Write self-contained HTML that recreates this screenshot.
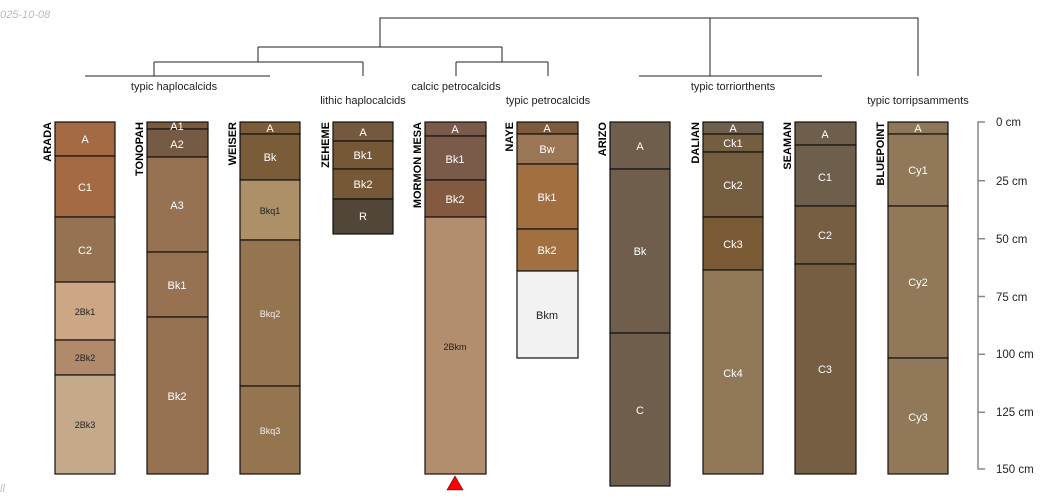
<!DOCTYPE html>
<html><head><meta charset="utf-8"><style>
html,body{margin:0;padding:0;background:#fff;width:1050px;height:500px;overflow:hidden}
svg{display:block}
text{font-family:"Liberation Sans",sans-serif}
.h{stroke:#111;stroke-width:1.2}
.w{fill:#fff;font-size:11px;text-anchor:middle}
.d{fill:#222;font-size:9px;text-anchor:middle}
.s{fill:#eee;font-size:9px;text-anchor:middle}
.n{font-size:11px;font-weight:bold;text-anchor:end;fill:#000}
.t{font-size:11px;fill:#222;text-anchor:middle}
.a{font-size:11.5px;fill:#222}
.l{stroke:#222;stroke-width:1;fill:none}
</style></head><body>
<svg width="1050" height="500" viewBox="0 0 1050 500">
<text x="0" y="18" font-size="11" font-style="italic" fill="#bbb">025-10-08</text>
<text x="0" y="492" font-size="11" font-style="italic" fill="#bbb">ll</text>

<!-- dendrogram -->
<path class="l" d="M380,47V18H918V76M710,18V76M639,76H822M380,47H258M380,47H502M258,47V62M154,62H363M154,62V76M363,62V76M85,76H270M502,47V62M456,62H548M456,62V76M548,62V76"/>
<text class="t" x="174" y="90">typic haplocalcids</text>
<text class="t" x="363" y="104">lithic haplocalcids</text>
<text class="t" x="456" y="90">calcic petrocalcids</text>
<text class="t" x="548" y="104">typic petrocalcids</text>
<text class="t" x="733" y="90">typic torriorthents</text>
<text class="t" x="918" y="104">typic torripsamments</text>

<!-- ARADA 55-115 -->
<g class="h">
<rect x="55" y="122" width="60" height="34" fill="#A46A44"/>
<rect x="55" y="156" width="60" height="61" fill="#A46A44"/>
<rect x="55" y="217" width="60" height="65" fill="#957352"/>
<rect x="55" y="282" width="60" height="58" fill="#CDA685"/>
<rect x="55" y="340" width="60" height="35" fill="#B08A6A"/>
<rect x="55" y="375" width="60" height="99" fill="#C4AA8A"/>
</g>
<text class="w" x="85" y="143">A</text><text class="w" x="85" y="191">C1</text><text class="w" x="85" y="254">C2</text>
<text class="d" x="85" y="315">2Bk1</text><text class="d" x="85" y="361">2Bk2</text><text class="d" x="85" y="428">2Bk3</text>
<text class="n" transform="translate(51,122) rotate(-90)">ARADA</text>

<!-- TONOPAH 147-208 -->
<g class="h">
<rect x="147" y="122" width="61" height="7" fill="#7A5A3E"/>
<rect x="147" y="129" width="61" height="28" fill="#755A44"/>
<rect x="147" y="157" width="61" height="95" fill="#967252"/>
<rect x="147" y="252" width="61" height="65" fill="#967252"/>
<rect x="147" y="317" width="61" height="157" fill="#967252"/>
</g>
<text class="w" x="177" y="130">A1</text><text class="w" x="177" y="148">A2</text><text class="w" x="177" y="209">A3</text>
<text class="w" x="177" y="289">Bk1</text><text class="w" x="177" y="400">Bk2</text>
<text class="n" transform="translate(143,122) rotate(-90)">TONOPAH</text>

<!-- WEISER 240-300 -->
<g class="h">
<rect x="240" y="122" width="60" height="12" fill="#7C5C38"/>
<rect x="240" y="134" width="60" height="46" fill="#7A5C38"/>
<rect x="240" y="180" width="60" height="60" fill="#AD9068"/>
<rect x="240" y="240" width="60" height="146" fill="#94754F"/>
<rect x="240" y="386" width="60" height="88" fill="#94754F"/>
</g>
<text class="w" x="270" y="132">A</text><text class="w" x="270" y="161">Bk</text>
<text class="d" x="270" y="214">Bkq1</text><text class="s" x="270" y="317">Bkq2</text><text class="s" x="270" y="434">Bkq3</text>
<text class="n" transform="translate(236,122) rotate(-90)">WEISER</text>

<!-- ZEHEME 333-393 -->
<g class="h">
<rect x="333" y="122" width="60" height="19" fill="#75593E"/>
<rect x="333" y="141" width="60" height="28" fill="#765836"/>
<rect x="333" y="169" width="60" height="30" fill="#765836"/>
<rect x="333" y="199" width="60" height="35" fill="#524639"/>
</g>
<text class="w" x="363" y="136">A</text><text class="w" x="363" y="159">Bk1</text><text class="w" x="363" y="188">Bk2</text><text class="w" x="363" y="220">R</text>
<text class="n" transform="translate(329,122) rotate(-90)">ZEHEME</text>

<!-- MORMON MESA 425-486 -->
<g class="h">
<rect x="425" y="122" width="61" height="14" fill="#7A5A48"/>
<rect x="425" y="136" width="61" height="44" fill="#7A5A48"/>
<rect x="425" y="180" width="61" height="37" fill="#835A40"/>
<rect x="425" y="217" width="61" height="257" fill="#B38E6E"/>
</g>
<text class="w" x="455" y="133">A</text><text class="w" x="455" y="163">Bk1</text><text class="w" x="455" y="203">Bk2</text>
<text class="d" x="455" y="350">2Bkm</text>
<text class="n" transform="translate(421,122) rotate(-90)">MORMON MESA</text>
<polygon points="455,476 463,490 447,490" fill="#f00" stroke="#600" stroke-width="0.6"/>

<!-- NAYE 517-578 -->
<g class="h">
<rect x="517" y="122" width="61" height="12" fill="#7E5A3C"/>
<rect x="517" y="134" width="61" height="30" fill="#9B7655"/>
<rect x="517" y="164" width="61" height="65" fill="#A26F40"/>
<rect x="517" y="229" width="61" height="42" fill="#A26F40"/>
<rect x="517" y="271" width="61" height="87" fill="#F2F2F2"/>
</g>
<text class="w" x="547" y="132">A</text><text class="w" x="547" y="153">Bw</text><text class="w" x="547" y="201">Bk1</text><text class="w" x="547" y="254">Bk2</text>
<text x="547" y="319" font-size="11" text-anchor="middle" fill="#222">Bkm</text>
<text class="n" transform="translate(513,122) rotate(-90)">NAYE</text>

<!-- ARIZO 610-670 -->
<g class="h">
<rect x="610" y="122" width="60" height="47" fill="#6F5E4C"/>
<rect x="610" y="169" width="60" height="164" fill="#6F5E4C"/>
<rect x="610" y="333" width="60" height="153" fill="#6F5E4C"/>
</g>
<text class="w" x="640" y="150">A</text><text class="w" x="640" y="255">Bk</text><text class="w" x="640" y="414">C</text>
<text class="n" transform="translate(606,122) rotate(-90)">ARIZO</text>

<!-- DALIAN 703-763 -->
<g class="h">
<rect x="703" y="122" width="60" height="12" fill="#6E5E4C"/>
<rect x="703" y="134" width="60" height="18" fill="#755D40"/>
<rect x="703" y="152" width="60" height="65" fill="#755D40"/>
<rect x="703" y="217" width="60" height="53" fill="#7A5A35"/>
<rect x="703" y="270" width="60" height="204" fill="#907859"/>
</g>
<text class="w" x="733" y="132">A</text><text class="w" x="733" y="147">Ck1</text><text class="w" x="733" y="189">Ck2</text><text class="w" x="733" y="248">Ck3</text><text class="w" x="733" y="377">Ck4</text>
<text class="n" transform="translate(699,122) rotate(-90)">DALIAN</text>

<!-- SEAMAN 795-856 -->
<g class="h">
<rect x="795" y="122" width="61" height="23" fill="#6E5E4C"/>
<rect x="795" y="145" width="61" height="61" fill="#6E5E4C"/>
<rect x="795" y="206" width="61" height="58" fill="#765E42"/>
<rect x="795" y="264" width="61" height="210" fill="#765E42"/>
</g>
<text class="w" x="825" y="138">A</text><text class="w" x="825" y="181">C1</text><text class="w" x="825" y="239">C2</text><text class="w" x="825" y="373">C3</text>
<text class="n" transform="translate(791,122) rotate(-90)">SEAMAN</text>

<!-- BLUEPOINT 888-948 -->
<g class="h">
<rect x="888" y="122" width="60" height="12" fill="#8E7658"/>
<rect x="888" y="134" width="60" height="72" fill="#907859"/>
<rect x="888" y="206" width="60" height="152" fill="#907859"/>
<rect x="888" y="358" width="60" height="116" fill="#907859"/>
</g>
<text class="w" x="918" y="132">A</text><text class="w" x="918" y="174">Cy1</text><text class="w" x="918" y="286">Cy2</text><text class="w" x="918" y="421">Cy3</text>
<text class="n" transform="translate(884,122) rotate(-90)">BLUEPOINT</text>

<!-- depth axis -->
<path d="M985,122H978V469H985M978,180.8H985M978,238.7H985M978,296.5H985M978,354.3H985M978,412.2H985" stroke="#888" stroke-width="1.5" fill="none"/>
<text class="a" x="996" y="126">0 cm</text>
<text class="a" x="996" y="185">25 cm</text>
<text class="a" x="996" y="243">50 cm</text>
<text class="a" x="996" y="301">75 cm</text>
<text class="a" x="996" y="358">100 cm</text>
<text class="a" x="996" y="416">125 cm</text>
<text class="a" x="996" y="473">150 cm</text>
</svg>
</body></html>
